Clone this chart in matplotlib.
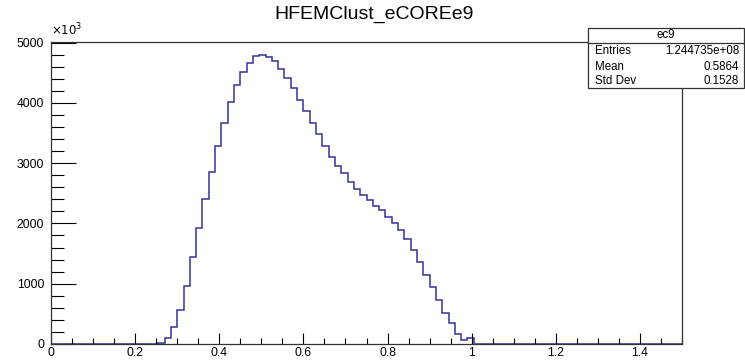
import numpy as np
import matplotlib
matplotlib.use('Agg')
import matplotlib.pyplot as plt
from matplotlib.patches import Rectangle
from matplotlib.lines import Line2D
from matplotlib.ticker import MultipleLocator

plt.rcParams['font.family'] = ['Liberation Sans', 'DejaVu Sans']

# histogram: 100 bins on [0, 1.5], counts in units of 10^3
n_bins = 100
x_range = (0.0, 1.5)
first_bin = 17
counts_nonzero = [
    15, 105, 282, 565, 965, 1443, 1918, 2400, 2858, 3284,
    3660, 4015, 4295, 4511, 4665, 4776, 4787, 4754, 4688, 4555,
    4416, 4251, 4046, 3869, 3670, 3480, 3278, 3106, 2946, 2830,
    2684, 2565, 2471, 2388, 2297, 2216, 2111, 2015, 1891, 1745,
    1559, 1365, 1144, 940, 730, 509, 343, 172, 60, 92,
]
title = 'HFEMClust_eCOREe9'
stats_name = 'ec9'
stats_rows = [('Entries', '1.244735e+08'), ('Mean', '0.5864'), ('Std Dev', '0.1528')]

counts = np.zeros(n_bins)
counts[first_bin:first_bin + len(counts_nonzero)] = counts_nonzero
edges = np.linspace(x_range[0], x_range[1], n_bins + 1)

W, H = 745, 360
fig = plt.figure(figsize=(W / 100, H / 100), dpi=100)
ax = fig.add_axes([51 / W, 1 - 344 / H, (682 - 51) / W, (344 - 41.7) / H])

ax.stairs(counts, edges, color='#333399', linewidth=1.1)

ax.set_xlim(*x_range)
ax.set_ylim(0, 5015)

ax.xaxis.set_major_locator(MultipleLocator(0.2))
ax.xaxis.set_minor_locator(MultipleLocator(0.05))
ax.yaxis.set_major_locator(MultipleLocator(1000))
ax.yaxis.set_minor_locator(MultipleLocator(200))
ax.xaxis.set_major_formatter(plt.FuncFormatter(lambda v, p: '%g' % round(v, 2)))

ax.tick_params(axis='x', which='major', direction='in', length=8, width=0.8,
               labelsize=8.8, pad=2)
ax.tick_params(axis='x', which='minor', direction='in', length=4, width=0.8)
ax.tick_params(axis='y', which='major', direction='in', length=18, width=0.8,
               labelsize=8.8, pad=5)
ax.tick_params(axis='y', which='minor', direction='in', length=9, width=0.8)
for s in ax.spines.values():
    s.set_linewidth(0.9)
    s.set_color('#333333')

ax.text(0.0, 1.01, r'$\times10^{3}$', transform=ax.transAxes, fontsize=8.5,
        ha='left', va='bottom')

fig.text(374 / W, 1 - 14 / H, title, fontsize=14, ha='center', va='center')

# stats box
bx0, bx1, by0, by1 = 587.7, 744.0, 28.3, 88.3
fig.patches.append(Rectangle((bx0 / W, 1 - by1 / H), (bx1 - bx0) / W, (by1 - by0) / H,
                             transform=fig.transFigure, facecolor='white',
                             edgecolor='#333333', linewidth=0.9, zorder=5))
fig.lines.append(Line2D([bx0 / W, bx1 / W], [1 - 42.7 / H, 1 - 42.7 / H],
                        transform=fig.transFigure, color='#333333', linewidth=0.9, zorder=6))
fig.text((bx0 + bx1) / 2 / W, 1 - 35.5 / H, stats_name, fontsize=8.3, ha='center',
         va='center', zorder=7)
for i, (k, v) in enumerate(stats_rows):
    yy = 1 - (51.5 + i * 15.0) / H
    fig.text(595 / W, yy, k, fontsize=8.3, ha='left', va='center', zorder=7)
    fig.text(739 / W, yy, v, fontsize=8.3, ha='right', va='center', zorder=7)

fig.savefig('out.png', dpi=100)
